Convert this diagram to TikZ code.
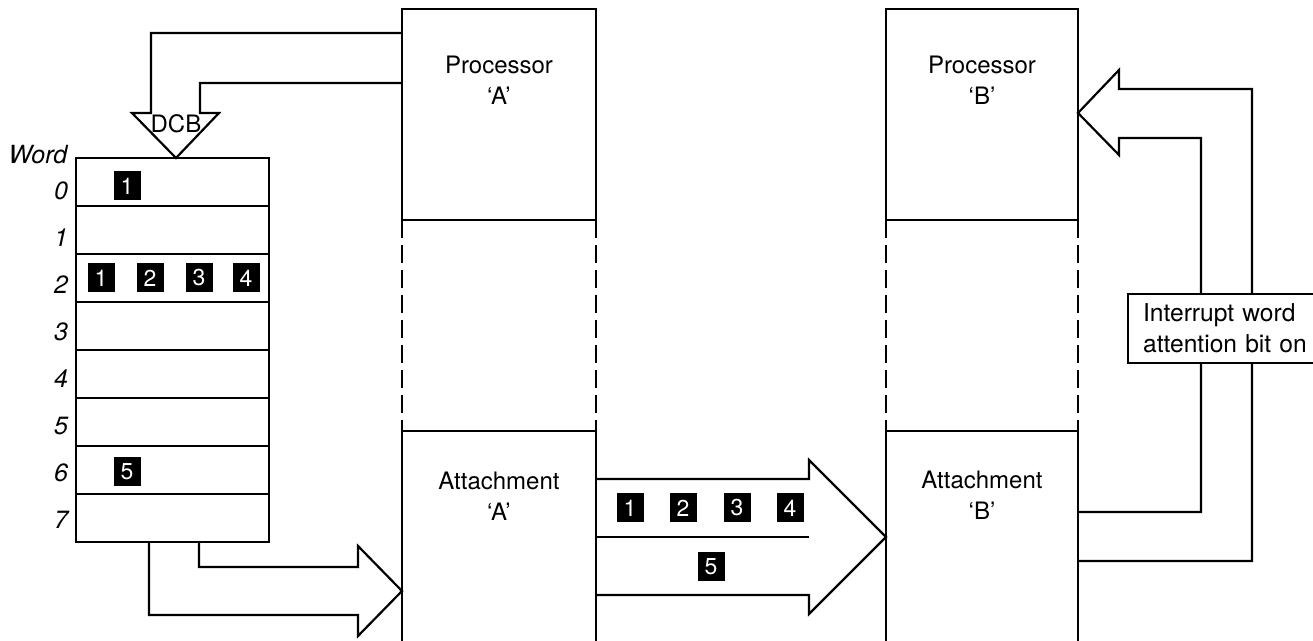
\documentclass[tikz,border=0pt]{standalone}
\usepackage{fontspec}
\setmainfont{TeX Gyre Heros}
\tikzset{
	linestyle/.style={line width=1.1pt,line join=miter},
	dashstyle/.style={line width=1.1pt,dash pattern=on 9pt off 3.5pt},
	labelstyle/.style={align=center,font=\fontsize{12}{15.5}\selectfont},
	numstyle/.style={rectangle,fill=black,text=white,minimum width=13.5pt,minimum height=14.5pt,inner sep=0pt,font=\fontsize{11.5}{11.5}\selectfont},
	wordstyle/.style={font=\fontsize{12.5}{13}\selectfont\itshape},
	notestyle/.style={rectangle,draw=black,fill=white,line width=1.1pt,align=left,text width=92pt,inner xsep=7.5pt,inner ysep=5pt,font=\fontsize{12.3}{15.5}\selectfont}
}
\begin{document}
\begin{tikzpicture}[x=0.5pt,y=-0.5pt]
	\useasboundingbox (0,0) rectangle (1313,641);
	\foreach \xl/\xr in {402/596,886/1078}{
		\draw[linestyle] (\xl,220) -- (\xl,9) -- (\xr,9) -- (\xr,220);
		\draw[linestyle] (\xl,220) -- (\xr,220);
		\draw[dashstyle] (\xl,220) -- (\xl,431);
		\draw[dashstyle] (\xr,220) -- (\xr,431);
		\draw[linestyle] (\xl,641) -- (\xl,431) -- (\xr,431) -- (\xr,641);
	}
	\node[labelstyle] (proca) at (499,80) {Processor\\‘A’};
	\node[labelstyle] (procb) at (982,80) {Processor\\‘B’};
	\node[labelstyle] (atta) at (499,496) {Attachment\\‘A’};
	\node[labelstyle] (attb) at (982,495) {Attachment\\‘B’};
	\draw[linestyle] (76,158) rectangle (269,542);
	\foreach \y in {206,254,302,350,398,446,494}
		\draw[linestyle] (76,\y) -- (269,\y);
	\node[wordstyle] (word) at (38,155) {Word};
	\foreach \i in {0,...,7}
		\node[wordstyle] (w\i) at (61,191+47*\i) {\i};
	\node[numstyle] (n01) at (127,186) {1};
	\node[numstyle] (n21) at (101,278) {1};
	\node[numstyle] (n22) at (150,278) {2};
	\node[numstyle] (n23) at (199,278) {3};
	\node[numstyle] (n24) at (246,278) {4};
	\node[numstyle] (n65) at (127,472) {5};
	\draw[linestyle] (402,33) -- (151,33) -- (151,113) -- (132,113) -- (176,158)
		-- (219,113) -- (200,113) -- (200,83) -- (402,83);
	\node[labelstyle,inner sep=0pt] (dcb) at (176,124) {DCB};
	\draw[linestyle] (149,542) -- (149,615) -- (358,615) -- (358,636) -- (402,591)
		-- (358,546) -- (358,567) -- (199,567) -- (199,542);
	\draw[linestyle] (596,479) -- (809,479) -- (809,460) -- (886,537)
		-- (809,614) -- (809,595) -- (596,595);
	\draw[linestyle] (596,537) -- (809,537);
	\node[numstyle] (m1) at (630,508) {1};
	\node[numstyle] (m2) at (683,508) {2};
	\node[numstyle] (m3) at (737,508) {3};
	\node[numstyle] (m4) at (790,508) {4};
	\node[numstyle] (m5) at (711,567) {5};
	\draw[linestyle] (1078,512) -- (1201,512) -- (1201,138) -- (1119,138) -- (1119,155)
		-- (1078,113) -- (1119,70) -- (1119,89) -- (1252,89) -- (1252,561) -- (1078,561);
	\node[notestyle,anchor=west] (intr) at (1127,328.5) {Interrupt word\\attention bit on};
\end{tikzpicture}
\end{document}
